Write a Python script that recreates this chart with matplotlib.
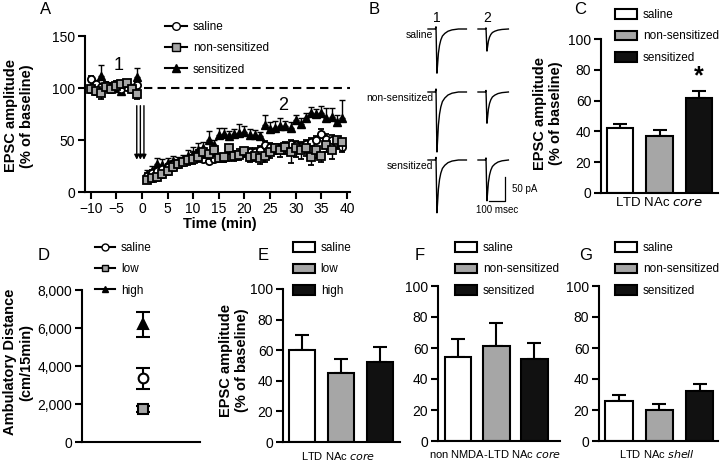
import matplotlib
matplotlib.use('Agg')
import matplotlib.pyplot as plt
from matplotlib.lines import Line2D
from matplotlib.patches import Patch

plt.rcParams['font.family'] = ['Liberation Sans', 'DejaVu Sans']

W, H = 720, 461

# ---- panel A: time course ----
time = [-10, -9, -8, -7, -6, -5, -4, -3, -2, -1,
        1, 2, 3, 4, 5, 6, 7, 8, 9, 10, 11, 12, 13, 14, 15, 16, 17, 18, 19, 20,
        21, 22, 23, 24, 25, 26, 27, 28, 29, 30, 31, 32, 33, 34, 35, 36, 37, 38, 39]
saline = [109, 104, 101, 103, 102, 104, 99, 101, 100, 103,
          15, 18, 20, 22, 24, 27, 28, 30, 32, 34, 36, 32, 30, 32, 33, 33, 34, 35, 37, 38,
          38, 38, 40, 45, 43, 42, 42, 44, 46, 45, 44, 46, 48, 50, 56, 51, 50, 46, 43]
saline_err = [3, 3, 3, 3, 3, 3, 3, 3, 3, 3,
              3, 3, 3, 3, 3, 3, 3, 3, 3, 4, 4, 4, 4, 4, 4, 4, 4, 4, 4, 4,
              4, 4, 4, 4, 4, 4, 4, 4, 4, 4, 4, 4, 4, 4, 5, 5, 5, 5, 5]
nonsens = [99, 97, 95, 101, 99, 102, 104, 105, 99, 94,
           12, 13, 14, 17, 20, 24, 27, 29, 31, 32, 34, 38, 37, 40, 33, 34, 42, 35, 36, 39,
           34, 35, 33, 35, 38, 42, 40, 43, 38, 42, 40, 42, 34, 40, 35, 45, 40, 50, 48]
nonsens_err = [4, 4, 6, 4, 4, 4, 4, 4, 4, 5,
               3, 3, 3, 4, 4, 4, 4, 4, 5, 5, 5, 5, 5, 5, 4, 5, 5, 5, 5, 5,
               5, 5, 6, 6, 5, 5, 6, 6, 10, 8, 8, 7, 8, 7, 6, 7, 8, 9, 10]
sens = [102, 104, 112, 103, 102, 100, 97, 102, 100, 111,
        17, 20, 27, 26, 28, 30, 30, 32, 35, 37, 40, 42, 50, 45, 55, 56, 54, 56, 57, 58,
        55, 55, 54, 64, 61, 62, 63, 63, 62, 69, 65, 71, 76, 75, 76, 71, 72, 67, 71]
sens_err = [4, 4, 10, 3, 3, 3, 3, 3, 4, 8,
            4, 5, 6, 6, 5, 5, 4, 4, 5, 6, 7, 6, 9, 5, 7, 6, 5, 5, 8, 5,
            6, 5, 4, 10, 6, 6, 8, 5, 5, 5, 6, 5, 6, 5, 7, 10, 9, 7, 17]
arrow_times = [-1.0, -0.3, 0.4]

# ---- panel B: example traces ----
trace_t = [0, 45, 50, 53, 56, 60, 65, 72, 80, 90, 105, 125, 150, 190, 240]
trace_shape = [0, 0, 0.05, -0.5, -1.0, -0.8, -0.55, -0.37, -0.25, -0.16, -0.1, -0.05, -0.02, 0, 0]
trace_rows = ['saline', 'non-sensitized', 'sensitized']
amp_before = [92, 125, 110]   # pA
amp_after = [46, 65, 85]

# ---- bar panels ----
groups3 = ['saline', 'non-sensitized', 'sensitized']
groups_dose = ['saline', 'low', 'high']
bar_colors = ['white', '#a6a6a6', '#111111']

c_vals = [42, 37, 62]
c_err = [3, 4, 4]
e_vals = [60, 45, 52]
e_err = [10, 9, 10]
f_vals = [54, 61, 53]
f_err = [12, 15, 10]
g_vals = [26, 20, 32]
g_err = [4, 4, 5]

# ---- panel D: locomotor ----
d_vals = [3350, 1750, 6200]
d_err = [550, 150, 650]

fig = plt.figure(figsize=(W / 100, H / 100), dpi=100)


def ax_px(l, t, r, b):
    return fig.add_axes([l / W, 1 - b / H, (r - l) / W, (b - t) / H])


def style(ax):
    for s in ['top', 'right']:
        ax.spines[s].set_visible(False)
    for s in ['left', 'bottom']:
        ax.spines[s].set_linewidth(1.5)
    ax.tick_params(width=1.5, length=5, labelsize=10, pad=2)


def ftext(x, y, s, **kw):
    fig.text(x / W, 1 - y / H, s, **kw)


def legend_px(ax, handles, labels, x, y, hl=1.85, sp=0.8):
    ax.legend(handles, labels, loc='upper left', bbox_to_anchor=(x / W, 1 - y / H),
              bbox_transform=fig.transFigure, frameon=False, fontsize=8.5,
              borderpad=0, borderaxespad=0, handlelength=hl, handleheight=0.85,
              handletextpad=0.5, labelspacing=sp)


def bars(ax, vals, errs, width):
    x = [0, 1, 2]
    ax.bar(x, vals, width=width, color=bar_colors, edgecolor='k', linewidth=1.5, zorder=2)
    ax.errorbar(x, vals, yerr=[[0, 0, 0], errs], fmt='none', ecolor='k',
                elinewidth=1.5, capsize=5, capthick=1.5, zorder=1)
    ax.set_ylim(0, 100)
    ax.set_yticks([0, 20, 40, 60, 80, 100])
    ax.set_xticks([])
    style(ax)


def bar_handles():
    return [Patch(facecolor=c, edgecolor='k', linewidth=1.5) for c in bar_colors]


# A
axA = ax_px(85, 36, 350, 192)
axA.errorbar(time, saline, yerr=[[0] * len(time), saline_err], fmt='o', ms=5.2,
             mfc='white', mec='k', mew=1.3, ecolor='k', elinewidth=1, capsize=2.5, zorder=3)
axA.errorbar(time, nonsens, yerr=[nonsens_err, [0] * len(time)], fmt='s', ms=5.2,
             mfc='#a6a6a6', mec='k', mew=1.3, ecolor='k', elinewidth=1, capsize=2.5, zorder=4)
axA.errorbar(time, sens, yerr=[[0] * len(time), sens_err], fmt='^', ms=5.8,
             mfc='k', mec='k', ecolor='k', elinewidth=1, capsize=2.5, zorder=2)
axA.plot([0.5, 40.6], [100, 100], 'k--', lw=1.5, dashes=(4, 2.5))
for t in arrow_times:
    axA.annotate('', xy=(t, 31), xytext=(t, 83),
                 arrowprops=dict(arrowstyle='-|>', color='k', lw=1, mutation_scale=7,
                                 shrinkA=0, shrinkB=0))
axA.set_xlim(-11.1, 40.6)
axA.set_ylim(0, 150)
axA.set_xticks([-10, -5, 0, 5, 10, 15, 20, 25, 30, 35, 40])
axA.set_yticks([0, 50, 100, 150])
style(axA)
axA.text(-4.5, 122, '1', fontsize=13, ha='center', va='center')
axA.text(27.5, 83, '2', fontsize=13, ha='center', va='center')
legend_px(axA, [Line2D([], [], color='k', lw=1.5, marker='o', mfc='white', mec='k', ms=5.5),
                Line2D([], [], color='k', lw=1.5, marker='s', mfc='#a6a6a6', mec='k', ms=5.5),
                Line2D([], [], color='k', lw=1.5, marker='^', mfc='k', mec='k', ms=6)],
          groups3, 165, 21)
ftext(220, 224, 'Time (min)', fontsize=10.5, fontweight='bold', ha='center', va='center')
ftext(19, 116, 'EPSC amplitude\n(% of baseline)', fontsize=10.5, fontweight='bold',
      rotation=90, ha='center', va='center', multialignment='center')

# B
axB = ax_px(395, 0, 560, 230)
ms_per_px, pa_per_px = 6.25, 50 / 24
axB.set_xlim(0, 165 * ms_per_px)
axB.set_ylim(-230 * pa_per_px, 0)
axB.axis('off')
row_base = [29, 92, 160]
for row, name in enumerate(trace_rows):
    y0 = -row_base[row] * pa_per_px
    x1 = (428 - 395) * ms_per_px
    x2 = (478 - 395) * ms_per_px
    axB.plot([x1 + t for t in trace_t], [y0 + amp_before[row] * s for s in trace_shape],
             color='k', lw=1)
    t2 = [t for t in trace_t if t <= 190]
    axB.plot([x2 + t for t in t2], [y0 + amp_after[row] * s for s in trace_shape[:len(t2)]],
             color='k', lw=1)
    axB.text(x1 + 32, y0 - 6 * pa_per_px, name, fontsize=7.5, ha='right', va='center')
sx, sy = (505 - 395) * ms_per_px, -201 * pa_per_px
axB.plot([sx - 100, sx, sx], [sy, sy, sy + 50], color='k', lw=0.9)
axB.text(sx + 7 * ms_per_px, sy + 25, '50 pA', fontsize=7, ha='left', va='center')
axB.text(sx - 50, sy - 9 * pa_per_px, '100 msec', fontsize=7, ha='center', va='center')
axB.text((437 - 395) * ms_per_px, -18 * pa_per_px, '1', fontsize=10, ha='center', va='center')
axB.text((487 - 395) * ms_per_px, -18 * pa_per_px, '2', fontsize=10, ha='center', va='center')

# C
axC = ax_px(601, 39, 718, 193)
bars(axC, c_vals, c_err, 0.67)
axC.set_xlim(-0.49, 2.49)
axC.text(2, 76, '*', fontsize=18, fontweight='bold', ha='center', va='center')
legend_px(axC, bar_handles(), groups3, 615, 9)
ftext(659, 203, 'LTD NAc $\\it{core}$', fontsize=9.5, ha='center', va='center')
ftext(548, 113, 'EPSC amplitude\n(% of baseline)', fontsize=10.5, fontweight='bold',
      rotation=90, ha='center', va='center', multialignment='center')

# D
axD = ax_px(82, 290, 200, 442)
d_marks = [('o', 'white'), ('s', '#a6a6a6'), ('^', 'k')]
for v, e, (m, c) in zip(d_vals, d_err, d_marks):
    axD.errorbar([0.52], [v], yerr=[e], fmt=m, ms=7, mfc=c, mec='k', mew=1.5,
                 ecolor='k', elinewidth=1.5, capsize=5, capthick=1.5)
axD.set_xlim(0, 1)
axD.set_ylim(0, 8000)
axD.set_yticks([0, 2000, 4000, 6000, 8000])
axD.set_yticklabels(['0', '2,000', '4,000', '6,000', '8,000'])
axD.set_xticks([])
style(axD)
legend_px(axD, [Line2D([], [], color='k', lw=1.5, marker=m, mfc=c, mec='k', ms=5)
                for m, c in d_marks], groups_dose, 95, 242, hl=1.7)
ftext(18, 362, 'Ambulatory Distance\n(cm/15min)', fontsize=10.5, fontweight='bold',
      rotation=90, ha='center', va='center', multialignment='center')

# E
axE = ax_px(283, 289, 400, 442)
bars(axE, e_vals, e_err, 0.67)
axE.set_xlim(-0.5, 2.52)
legend_px(axE, bar_handles(), groups_dose, 293, 242)
ftext(338, 456, 'LTD NAc $\\it{core}$', fontsize=8, ha='center', va='center')
ftext(234, 360, 'EPSC amplitude\n(% of baseline)', fontsize=10.5, fontweight='bold',
      rotation=90, ha='center', va='center', multialignment='center')

# F
axF = ax_px(438, 286, 560, 441)
bars(axF, f_vals, f_err, 0.7)
axF.set_xlim(-0.52, 2.67)
legend_px(axF, bar_handles(), groups3, 455, 242)
ftext(495, 454, 'non NMDA-LTD NAc $\\it{core}$', fontsize=8, ha='center', va='center')

# G
axG = ax_px(599, 286, 718, 441)
bars(axG, g_vals, g_err, 0.68)
axG.set_xlim(-0.5, 2.46)
legend_px(axG, bar_handles(), groups3, 615, 242)
ftext(657, 454, 'LTD NAc $\\it{shell}$', fontsize=8, ha='center', va='center')

# panel letters
for letter, x, y in [('A', 46, 9), ('B', 374, 9), ('C', 580, 9), ('D', 44, 256),
                     ('E', 263, 256), ('F', 420, 256), ('G', 586, 256)]:
    ftext(x, y, letter, fontsize=12, ha='center', va='center')

fig.savefig('out.png', dpi=100)
